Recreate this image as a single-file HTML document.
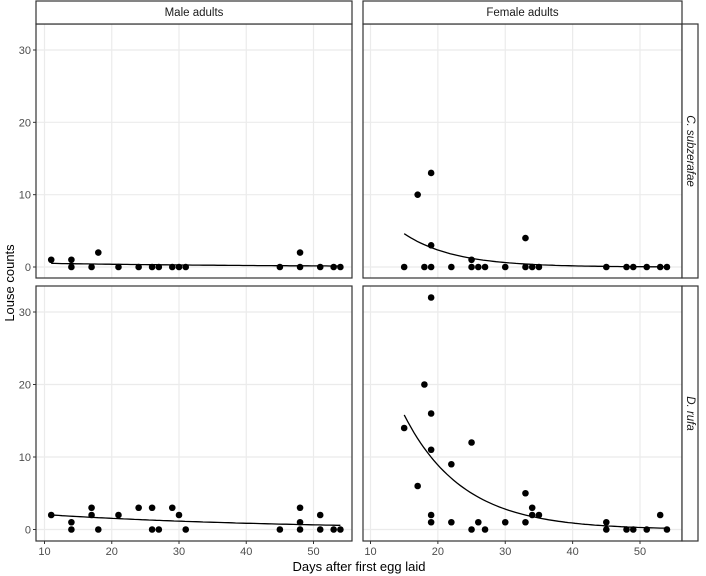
<!DOCTYPE html>
<html><head><meta charset="utf-8"><style>body{margin:0;background:#fff}svg{display:block;font-family:"Liberation Sans",sans-serif}</style></head>
<body>
<svg id="c" width="706" height="576"></svg>
<script>
const xTicks=[10,20,30,40,50];
const yTicks=[0,10,20,30];
const colLabels=["Male adults","Female adults"];
const rowLabels=["C. subzerafae","D. rufa"];
const maleCsX=[11,14,14,17,18,21,24,26,27,29,30,31,45,48,48,51,53,54];
const maleCsY=[1,1,0,0,2,0,0,0,0,0,0,0,0,2,0,0,0,0];
const femCsX=[15,17,18,19,19,19,22,25,25,26,27,30,33,33,34,35,45,48,49,51,53,54];
const femCsY=[0,10,0,0,13,3,0,1,0,0,0,0,4,0,0,0,0,0,0,0,0,0];
const maleDrX=[11,14,14,17,17,18,21,24,26,26,27,29,30,31,45,48,48,48,51,51,53,54];
const maleDrY=[2,1,0,3,2,0,2,3,3,0,0,3,2,0,0,3,1,0,2,0,0,0];
const femDrX=[15,17,18,19,19,19,19,19,22,22,25,25,26,27,30,33,33,34,34,35,45,45,48,49,51,53,54];
const femDrY=[14,6,20,32,16,11,2,1,9,1,12,0,1,0,1,5,1,3,2,2,1,0,0,0,0,2,0];
// fitted curve parameters: y = a*exp(-b*(x-x0))
const fitA=[0.5,4.6,2.0,15.8];
const fitB=[0.03,0.134,0.029,0.115];
const fitX0=[11,15,11,15];
const fitX1=[54,54,54,54];

const NS="http://www.w3.org/2000/svg",svg=document.getElementById('c');
function mk(t,a,p){const e=document.createElementNS(NS,t);for(const k in a)e.setAttribute(k,a[k]);(p||svg).appendChild(e);return e;}
const cols=[{l:36,r:352,x10:44.5,x50:313.5},{l:363,r:682,x10:370.5,x50:640}];
const rows=[{t:24,b:278,y0:267,y30:50},{t:286,b:541,y0:529.5,y30:312}];
function sx(c,v){return c.x10+(v-10)*(c.x50-c.x10)/40;}
function sy(r,v){return r.y0+v*(r.y30-r.y0)/30;}
const data=[[[maleCsX,maleCsY],[femCsX,femCsY]],[[maleDrX,maleDrY],[femDrX,femDrY]]];
for(let ri=0;ri<2;ri++)for(let ci=0;ci<2;ci++){
  const c=cols[ci],r=rows[ri],g=mk('g',{});
  
  
  mk('rect',{x:c.l,y:r.t,width:c.r-c.l,height:r.b-r.t,fill:'#fff'},g);
  xTicks.forEach(v=>{const e=mk('line',{x1:sx(c,v),x2:sx(c,v),y1:r.t,y2:r.b,stroke:'#ebebeb','stroke-width':1.2},g);});
  yTicks.forEach(v=>{const e=mk('line',{x1:c.l,x2:c.r,y1:sy(r,v),y2:sy(r,v),stroke:'#ebebeb','stroke-width':1.2},g);});
  const k=ri*2+ci;let d='';
  for(let i=0;i<=80;i++){const x=fitX0[k]+(fitX1[k]-fitX0[k])*i/80;const y=fitA[k]*Math.exp(-fitB[k]*(x-fitX0[k]));d+=(i?'L':'M')+sx(c,x).toFixed(1)+' '+sy(r,y).toFixed(1);}
  const fl=mk('path',{d:d,fill:'none',stroke:'#000','stroke-width':1.3},g);
  
  const [X,Y]=data[ri][ci];
  X.forEach((x,i)=>{const p=mk('circle',{cx:sx(c,x),cy:sy(r,Y[i]),r:3.3,fill:'#000'},g);});
  mk('rect',{x:c.l,y:r.t,width:c.r-c.l,height:r.b-r.t,fill:'none',stroke:'#333','stroke-width':1.2},g);
  if(ci==0){yTicks.forEach(v=>{mk('line',{x1:c.l-3,x2:c.l,y1:sy(r,v),y2:sy(r,v),stroke:'#333'},g);const t=mk('text',{x:c.l-5,y:sy(r,v)+4,'text-anchor':'end','font-size':11,fill:'#4d4d4d'},g);t.textContent=v;});}
  if(ri==1){xTicks.forEach(v=>{mk('line',{x1:sx(c,v),x2:sx(c,v),y1:r.b,y2:r.b+3,stroke:'#333'},g);const t=mk('text',{x:sx(c,v),y:r.b+14,'text-anchor':'middle','font-size':11,fill:'#4d4d4d'},g);t.textContent=v;});}
}
cols.forEach((c,i)=>{const s=mk('rect',{x:c.l,y:1,width:c.r-c.l,height:23,fill:'#fff',stroke:'#333','stroke-width':1.2});
  const t=mk('text',{x:(c.l+c.r)/2,y:16,'text-anchor':'middle','font-size':11.5,fill:'#1a1a1a'});t.textContent=colLabels[i];});
rows.forEach((r,i)=>{const s=mk('rect',{x:682,y:r.t,width:16,height:r.b-r.t,fill:'#fff',stroke:'#333','stroke-width':1.2});
  const cy=(r.t+r.b)/2;const t=mk('text',{x:690,y:cy,'text-anchor':'middle','font-size':11.5,'font-style':'italic',fill:'#1a1a1a',transform:`rotate(90 690 ${cy})`,'dominant-baseline':'central'});t.textContent=rowLabels[i];});
const yl=mk('text',{x:14,y:283,'text-anchor':'middle','font-size':13,fill:'#000',transform:'rotate(-90 14 283)'});yl.textContent='Louse counts';
const xl=mk('text',{x:359,y:571,'text-anchor':'middle','font-size':13,fill:'#000'});xl.textContent='Days after first egg laid';
</script>
</body></html>
